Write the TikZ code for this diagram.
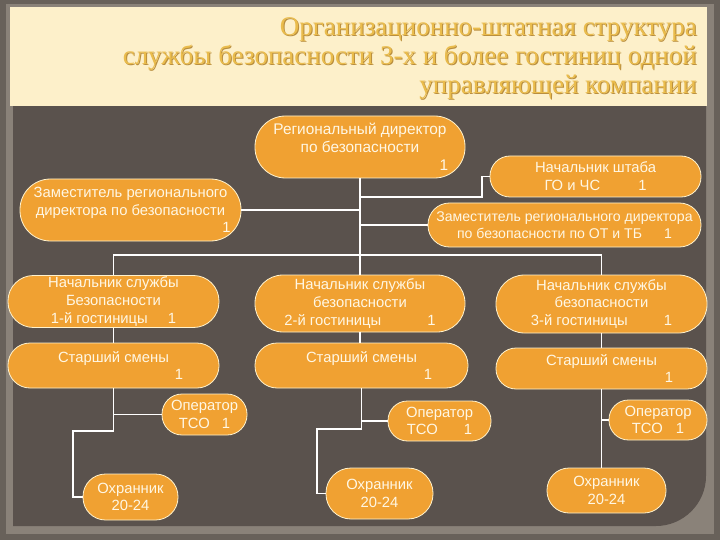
\documentclass[tikz,border=0pt]{standalone}
\usepackage{fontspec}
\setmainfont{Liberation Sans}
\newfontfamily\titlefont{Liberation Serif}
\usetikzlibrary{calc}
\definecolor{bgout}{RGB}{104,97,90}
\definecolor{frame}{RGB}{138,130,121}
\definecolor{panel}{RGB}{90,82,77}
\definecolor{cream}{RGB}{253,240,202}
\definecolor{gold}{RGB}{234,188,76}
\definecolor{goldsh}{RGB}{185,142,62}
\definecolor{boxorange}{RGB}{240,161,50}
\definecolor{boxline}{RGB}{255,242,205}
\definecolor{boxtext}{RGB}{255,247,228}
\tikzset{
 box/.style={draw=boxline, line width=0.8pt, fill=boxorange, text=boxtext,
   font=\fontsize{14.8}{17.8}\selectfont, align=center, inner sep=0pt},
 conn/.style={draw=white, line width=1.8pt},
 ttl/.style={font=\titlefont\fontsize{27}{29}\selectfont, anchor=base east, text=gold, inner sep=0pt},
 ttlsh/.style={ttl, text=goldsh}
}
\begin{document}
\begin{tikzpicture}[x=1pt,y=-1pt]
\useasboundingbox (0,0) rectangle (720,540);
\fill[bgout] (0,0) rectangle (720,540);
\fill[frame] (6,4) rectangle (714,534);
\fill[panel] (13,106) -- (706,106) -- (706,476) .. controls (706,504) and (683,526) .. (656,526) -- (13,526) -- cycle;
\fill[cream] (10,7) rectangle (707,106);

% title
\node[ttlsh] (t1s) at (698,37) {Организационно-штатная структура};
\node[ttl] (t1) at (697,36) {Организационно-штатная структура};
\node[ttlsh] (t2s) at (698,66) {службы безопасности 3-х и более гостиниц одной};
\node[ttl] (t2) at (697,65) {службы безопасности 3-х и более гостиниц одной};
\node[ttlsh] (t3s) at (698,95) {управляющей компании};
\node[ttl] (t3) at (697,94) {управляющей компании};

% boxes
\node[box, font=\fontsize{15.4}{18}\selectfont, minimum width=210pt, minimum height=62pt, rounded corners=30.5pt] (rd) at (360,147)
  {Региональный директор\\по безопасности\\\hspace*{168pt}1};
\node[box, minimum width=221pt, minimum height=62pt, rounded corners=30.5pt] (z1) at (130.5,210)
  {Заместитель регионального\\директора по безопасности\\\hspace*{192pt}1};
\node[box, minimum width=211pt, minimum height=41pt, rounded corners=20pt] (st) at (595.5,176.5)
  {Начальник штаба\\ГО и ЧС\hspace{38pt}1};
\node[box, font=\fontsize{14.1}{16.5}\selectfont, minimum width=273pt, minimum height=44pt, rounded corners=21.5pt] (z2) at (564.5,225)
  {Заместитель регионального директора\\по безопасности по ОТ и ТБ\hspace{22pt}1};

\node[box, minimum width=211pt, minimum height=52pt, rounded corners=25.5pt] (h1) at (113.5,301.5)
  {Начальник службы\\Безопасности\\1-й гостиницы\hspace{20pt}1};
\node[box, minimum width=210pt, minimum height=57pt, rounded corners=28pt] (h2) at (360,303.5)
  {Начальник службы\\безопасности\\2-й гостиницы\hspace{46pt}1};
\node[box, minimum width=211pt, minimum height=58pt, rounded corners=28.5pt] (h3) at (601.5,304)
  {Начальник службы\\безопасности\\3-й гостиницы\hspace{36pt}1};

\node[box, minimum width=211pt, minimum height=45pt, rounded corners=22pt] (s1) at (113.5,365.5)
  {Старший смены\\\hspace*{131pt}1};
\node[box, minimum width=213pt, minimum height=45pt, rounded corners=22pt] (s2) at (361.5,365.5)
  {Старший смены\\\hspace*{133pt}1};
\node[box, minimum width=211pt, minimum height=41pt, rounded corners=20pt] (s3) at (601.5,368.5)
  {Старший смены\\\hspace*{135pt}1};

\node[box, minimum width=85pt, minimum height=41pt, rounded corners=20pt] (o1) at (204.5,414.5)
  {Оператор\\ТСО\hspace{12pt}1};
\node[box, minimum width=103pt, minimum height=40pt, rounded corners=19.5pt] (o2) at (439.5,421)
  {Оператор\\ТСО\hspace{26pt}1};
\node[box, minimum width=98pt, minimum height=40pt, rounded corners=19.5pt] (o3) at (658,420)
  {Оператор\\ТСО\hspace{13pt}1};

\node[box, minimum width=95pt, minimum height=46pt, rounded corners=22.5pt] (g1) at (130.5,497)
  {Охранник\\20-24};
\node[box, minimum width=107pt, minimum height=51pt, rounded corners=25pt] (g2) at (379.5,493.5)
  {Охранник\\20-24};
\node[box, minimum width=119pt, minimum height=45pt, rounded corners=22pt] (g3) at (606.5,490.5)
  {Охранник\\20-24};

% connectors
\draw[conn] (rd.south) -- (rd.south |- h2.north);
\draw[conn] (z1.east) -- (z1.east -| rd.south);
\draw[conn] (z2.west) -- (z2.west -| rd.south);
\coordinate (stj) at (482,197);
\draw[conn] (rd.south |- stj) -- (stj) |- (st.west);
\coordinate (bus) at (360,255);
\draw[conn] (h1.north) |- (bus) -| (h3.north);
\draw[conn] (h1.south) -- (s1.north);
\draw[conn] (h2.south) -- (h2.south |- s2.north);
\draw[conn] (h3.south) -- (s3.north);
\coordinate (j1) at (113.5,431);
\coordinate (k1) at (73,431);
\draw[conn] (s1.south) -- (j1) -- (k1) |- (g1.west);
\draw[conn] (s1.south |- o1.west) -- (o1.west);
\coordinate (j2) at (361.5,429);
\coordinate (k2) at (317,429);
\draw[conn] (s2.south) -- (j2) -- (k2) |- (g2.west);
\draw[conn] (s2.south |- o2.west) -- (o2.west);
\draw[conn] (s3.south) -- (s3.south |- g3.north);
\draw[conn] (s3.south |- o3.west) -- (o3.west);
\end{tikzpicture}
\end{document}
